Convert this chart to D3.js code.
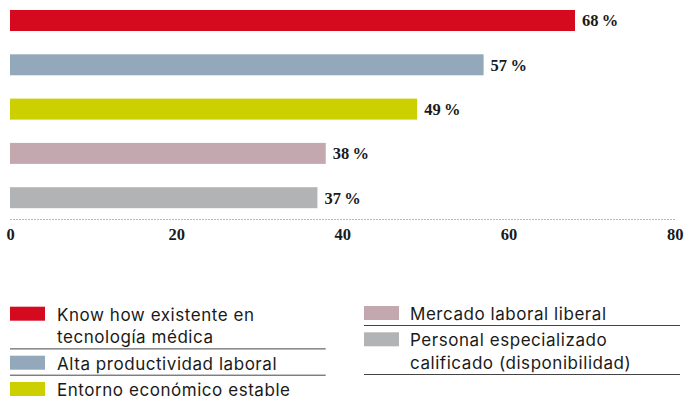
<!DOCTYPE html>
<html>
<head>
<meta charset="utf-8">
<script src="https://cdn.jsdelivr.net/npm/d3@7"></script>
<style>
  html, body { margin: 0; padding: 0; background: #fff; }
  svg { display: block; }
</style>
</head>
<body>
<svg id="chart" width="696" height="401"></svg>
<script>
const categories = [
  "Know how existente en tecnología médica",
  "Alta productividad laboral",
  "Entorno económico estable",
  "Mercado laboral liberal",
  "Personal especializado calificado (disponibilidad)"
];
const values = [68, 57, 49, 38, 37];
const colors = ["#d50a1e", "#93a9bb", "#cccf00", "#c3a9af", "#b2b3b5"];
const tickValues = [0, 20, 40, 60, 80];
const legendLines = [
  ["Know how existente en", "tecnología médica"],
  ["Alta productividad laboral"],
  ["Entorno económico estable"],
  ["Mercado laboral liberal"],
  ["Personal especializado", "calificado (disponibilidad)"]
];
const legendColumn = [0, 0, 0, 1, 1];

const svg = d3.select("#chart");
const serif = "'Liberation Serif', 'DejaVu Serif', serif";
const sans = "Inter, 'Liberation Sans', Arial, sans-serif";

const x = d3.scaleLinear().domain([0, 80]).range([10, 674.7]);
const y = d3.scaleBand().domain(categories).range([10, 208.2]).paddingInner(0.526).paddingOuter(0);

// bars
svg.append("g").selectAll("rect")
  .data(categories)
  .join("rect")
  .attr("x", x(0))
  .attr("y", d => y(d))
  .attr("width", (d, i) => x(values[i]) - x(0))
  .attr("height", y.bandwidth())
  .attr("fill", (d, i) => colors[i]);

// value labels
svg.append("g").selectAll("text")
  .data(categories)
  .join("text")
  .attr("x", (d, i) => x(values[i]) + 7)
  .attr("y", d => y(d) + y.bandwidth() / 2 + 5.8)
  .attr("font-family", serif)
  .attr("font-weight", "bold")
  .attr("font-size", 16.5)
  .attr("fill", "#1a1a1a")
  .text((d, i) => values[i] + "\u2009%");

// axis
const axis = d3.axisBottom(x).tickValues(tickValues).tickSize(0).tickPadding(0).tickFormat(d3.format("d"));
const ag = svg.append("g").attr("transform", "translate(0,219)").call(axis);
ag.select(".domain")
  .attr("stroke", "#777")
  .attr("stroke-width", 1)
  .attr("stroke-dasharray", "1,2");
ag.selectAll(".tick text")
  .attr("dy", null)
  .attr("y", 20.5)
  .attr("font-family", serif)
  .attr("font-weight", "bold")
  .attr("font-size", 16.5)
  .attr("fill", "#1a1a1a");

// legend
const colX = [{sw: 10, tx: 57, lineEnd: 325.7}, {sw: 364, tx: 410, lineEnd: 680}];
const colStart = [320.7, 320];
const lineH = 22.7;
const legend = svg.append("g");
const cursor = colStart.slice();
categories.forEach((c, i) => {
  const col = legendColumn[i];
  const cx = colX[col];
  const base = cursor[col];
  const g = legend.append("g");
  g.append("rect")
    .attr("x", cx.sw).attr("y", base - 14)
    .attr("width", 35).attr("height", 14)
    .attr("fill", colors[i]);
  legendLines[i].forEach((t, k) => {
    g.append("text")
      .attr("x", cx.tx)
      .attr("y", base + k * lineH)
      .attr("font-family", sans)
      .attr("font-size", 17)
      .attr("letter-spacing", 0.55)
      .attr("fill", "#1a1a1a")
      .text(t);
  });
  const lastBase = base + (legendLines[i].length - 1) * lineH;
  const sepY = lastBase + 5.5;
  if (sepY < 398) {
    g.append("line")
      .attr("x1", cx.sw).attr("x2", cx.lineEnd)
      .attr("y1", sepY).attr("y2", sepY)
      .attr("stroke", "#444").attr("stroke-width", 1);
  }
  cursor[col] = sepY + 20.8;
});
</script>
</body>
</html>
